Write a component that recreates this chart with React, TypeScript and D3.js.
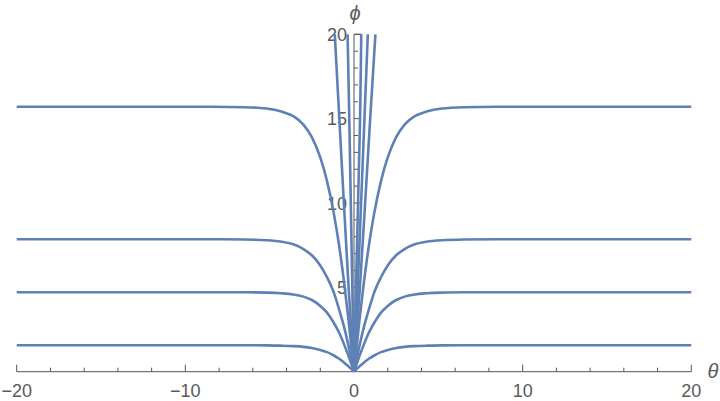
import React from "react";
import * as d3 from "d3";

const W = 720;
const H = 401;

// Plateau curves (right half, θ ≥ 0); the left half mirrors them
const plateauTheta = [0, 0.15, 0.35, 0.6, 0.9, 1.2, 1.6, 2.0, 2.5, 3.0, 3.6, 4.3, 5.2, 6.5, 8.5, 20];
const plateau1 = [0, 0.15, 0.34, 0.55, 0.78, 0.96, 1.16, 1.29, 1.4, 1.47, 1.515, 1.543, 1.56, 1.568, 1.571, 1.571];
const plateau2 = [0, 0.44, 1.0, 1.65, 2.35, 2.9, 3.5, 3.9, 4.25, 4.45, 4.58, 4.65, 4.69, 4.706, 4.712, 4.712];
const plateau3 = [0, 0.7, 1.65, 2.7, 3.75, 4.7, 5.6, 6.3, 6.9, 7.27, 7.55, 7.7, 7.79, 7.835, 7.85, 7.854];
const plateau4 = [0, 1.4, 3.3, 5.4, 7.6, 9.4, 11.3, 12.7, 13.9, 14.65, 15.15, 15.42, 15.6, 15.68, 15.705, 15.708];

// Steep curves near θ = 0, given as θ at each φ level
const steepPhi = [0, 5, 10, 15, 20];
const steepLeft1 = [0, -0.32, -0.6, -0.87, -1.14];
const steepLeft2 = [0, -0.1, -0.19, -0.28, -0.38];
const steepRight1 = [0, 0.35, 0.66, 0.96, 1.27];
const steepRight2 = [0, 0.22, 0.42, 0.62, 0.82];
const steepRight3 = [0, 0.12, 0.24, 0.36, 0.43];

const xTicksMajor = [-20, -10, 0, 10, 20];
const xTicksMinor = [-18, -16, -14, -12, -8, -6, -4, -2, 2, 4, 6, 8, 12, 14, 16, 18];
const yTicksMajor = [5, 10, 15, 20];
const yTicksMinor = [1, 2, 3, 4, 6, 7, 8, 9, 11, 12, 13, 14, 16, 17, 18, 19];

const BLUE = "#5e81b5";
const AXIS = "#555555";
const LABEL = "#5a5a5a";

export default function App() {
  const x = d3.scaleLinear().domain([-20, 20]).range([16.7, 691.3]);
  const y = d3.scaleLinear().domain([0, 20]).range([371.7, 34.3]);

  const lineX = d3
    .line<[number, number]>()
    .x((d) => x(d[0]))
    .y((d) => y(d[1]))
    .curve(d3.curveMonotoneX);
  const lineY = d3
    .line<[number, number]>()
    .x((d) => x(d[0]))
    .y((d) => y(d[1]))
    .curve(d3.curveMonotoneY);

  const plateaus = [plateau1, plateau2, plateau3, plateau4];
  const paths: string[] = [];
  plateaus.forEach((vals) => {
    const right: [number, number][] = plateauTheta.map((t, i) => [t, vals[i]]);
    const left: [number, number][] = plateauTheta
      .map((t, i) => [-t, vals[i]] as [number, number])
      .reverse();
    paths.push(lineX(right) as string);
    paths.push(lineX(left) as string);
  });
  [steepLeft1, steepLeft2, steepRight1, steepRight2, steepRight3].forEach((th) => {
    const pts: [number, number][] = steepPhi.map((p, i) => [th[i], p]);
    paths.push(lineY(pts) as string);
  });

  const font = "'Liberation Sans', Arial, sans-serif";

  return (
    <svg
      width={W}
      height={H}
      style={{ position: "absolute", left: 0, top: 0, background: "#fff" }}
    >
      {/* axes */}
      <line x1={x(-20)} x2={x(20)} y1={y(0)} y2={y(0)} stroke={AXIS} strokeWidth={1} />
      <line x1={x(0)} x2={x(0)} y1={y(0)} y2={y(20)} stroke={AXIS} strokeWidth={1} />
      <line x1={x(0)} x2={x(steepRight3[4])} y1={y(20)} y2={y(20)} stroke={AXIS} strokeWidth={1} />
      {xTicksMajor.map((t) => (
        <line key={"xM" + t} x1={x(t)} x2={x(t)} y1={y(0)} y2={y(0) - 7} stroke={AXIS} />
      ))}
      {xTicksMinor.map((t) => (
        <line key={"xm" + t} x1={x(t)} x2={x(t)} y1={y(0)} y2={y(0) - 4} stroke={AXIS} />
      ))}
      {yTicksMajor.map((t) => (
        <line key={"yM" + t} x1={x(0)} x2={x(0) + 7} y1={y(t)} y2={y(t)} stroke={AXIS} />
      ))}
      {yTicksMinor.map((t) => (
        <line key={"ym" + t} x1={x(0)} x2={x(0) + 4} y1={y(t)} y2={y(t)} stroke={AXIS} />
      ))}
      {xTicksMajor.map((t) => (
        <text
          key={"xl" + t}
          x={x(t)}
          y={396.5}
          textAnchor="middle"
          fontFamily={font}
          fontSize={18}
          fill={LABEL}
        >
          {t < 0 ? "\u2212" + Math.abs(t) : String(t)}
        </text>
      ))}
      {yTicksMajor.map((t) => (
        <text
          key={"yl" + t}
          x={347}
          y={y(t) + 6.5}
          textAnchor="end"
          fontFamily={font}
          fontSize={18}
          fill={LABEL}
        >
          {t}
        </text>
      ))}
      {/* curves */}
      <g fill="none" stroke={BLUE} strokeWidth={2.6} strokeLinejoin="round">
        {paths.map((d, i) => (
          <path key={i} d={d} />
        ))}
      </g>
      {/* axis labels */}
      <text x={355} y={20} textAnchor="middle" fontFamily={font} fontStyle="italic" fontSize={20} fill={LABEL}>
        ϕ
      </text>
      <text x={713} y={378} textAnchor="middle" fontFamily={font} fontStyle="italic" fontSize={20} fill={LABEL}>
        θ
      </text>
    </svg>
  );
}
